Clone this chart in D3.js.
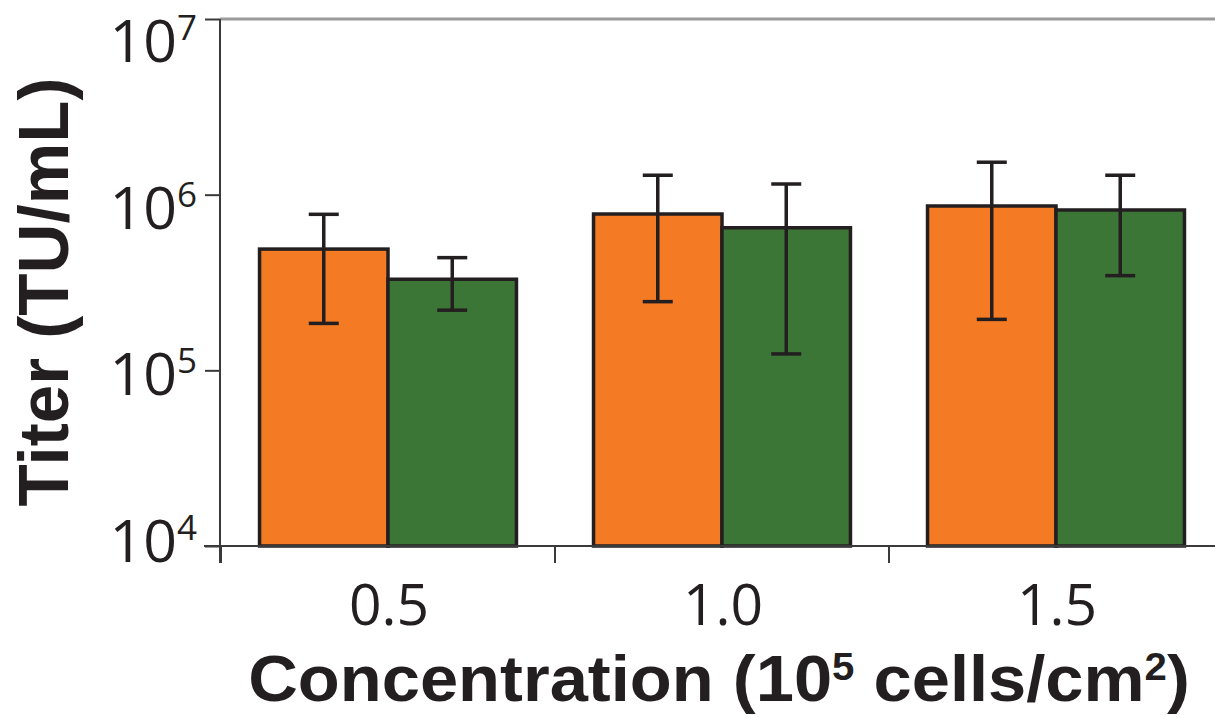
<!DOCTYPE html>
<html>
<head>
<meta charset="utf-8">
<script src="https://cdn.jsdelivr.net/npm/d3@7"></script>
<style>
  html, body { margin: 0; padding: 0; background: #fff; }
  svg { display: block; }
  text { font-family: "Open Sans", "Noto Sans", sans-serif; fill: #231f20; }
  text.title { font-family: "Liberation Sans", Arial, sans-serif; font-weight: 700; }
</style>
</head>
<body>
<svg id="chart" width="1215" height="715"></svg>
<script>
// ---- data ----
const categories = ["0.5", "1.0", "1.5"];
const series = ["orange", "green"];
const orangeValues = [4.9e5, 7.76e5, 8.62e5];
const orangeLow    = [1.85e5, 2.46e5, 1.95e5];
const orangeHigh   = [7.73e5, 1.29e6, 1.53e6];
const greenValues  = [3.30e5, 6.48e5, 8.18e5];
const greenLow     = [2.2e5, 1.24e5, 3.46e5];
const greenHigh    = [4.38e5, 1.15e6, 1.29e6];
const yTickExponents = [4, 5, 6, 7];

const colors = { orange: "#f47a24", green: "#3c7637" };
const ink = "#231f20";

const svg = d3.select("#chart");

const yDomain = [1e4, 1e7];
const y = d3.scaleLog().domain(yDomain).range([546, 19]);
const yLabel = d3.scaleLog().domain(yDomain).range([562, 62]);   // label baselines
const x0 = d3.scaleBand().domain(categories).range([221, 1223]).padding(0);
const x1 = d3.scaleBand().domain(series).range([0, x0.bandwidth()]).paddingInner(0).paddingOuter(0.3);

const rows = categories.map((c, i) => ({
  cat: c,
  bars: [
    { s: "orange", v: orangeValues[i], lo: orangeLow[i], hi: orangeHigh[i] },
    { s: "green",  v: greenValues[i],  lo: greenLow[i],  hi: greenHigh[i] }
  ]
}));

// top frame line
svg.append("line").attr("x1", 220).attr("x2", 1215).attr("y1", y(1e7)).attr("y2", y(1e7))
  .attr("stroke", "#9a9a9a").attr("stroke-width", 3);

// bars
const groups = svg.selectAll("g.grp").data(rows).join("g").attr("class", "grp")
  .attr("transform", d => `translate(${x0(d.cat)},0)`);

groups.selectAll("rect").data(d => d.bars).join("rect")
  .attr("x", d => x1(d.s))
  .attr("width", x1.bandwidth())
  .attr("y", d => y(d.v))
  .attr("height", d => y(1e4) - y(d.v))
  .attr("fill", d => colors[d.s])
  .attr("stroke", ink).attr("stroke-width", 3.5);

// error bars
const eb = groups.selectAll("g.eb").data(d => d.bars).join("g").attr("class", "eb")
  .attr("transform", d => `translate(${x1(d.s) + x1.bandwidth() / 2},0)`);
eb.append("line").attr("x1", 0).attr("x2", 0).attr("y1", d => y(d.hi)).attr("y2", d => y(d.lo))
  .attr("stroke", ink).attr("stroke-width", 3.5);
eb.append("line").attr("x1", -15).attr("x2", 15).attr("y1", d => y(d.hi)).attr("y2", d => y(d.hi))
  .attr("stroke", ink).attr("stroke-width", 3.5);
eb.append("line").attr("x1", -15).attr("x2", 15).attr("y1", d => y(d.lo)).attr("y2", d => y(d.lo))
  .attr("stroke", ink).attr("stroke-width", 3.5);

// y axis
const yAxis = d3.axisLeft(y).tickValues(yTickExponents.map(e => Math.pow(10, e)))
  .tickSize(15).tickSizeOuter(0).tickFormat("");
const gy = svg.append("g").attr("transform", "translate(220,0)").call(yAxis);
gy.select(".domain").remove();
gy.selectAll(".tick line").attr("stroke", "#3a3a3a").attr("stroke-width", 2);
svg.append("line").attr("x1", 220).attr("x2", 220).attr("y1", y(1e7)).attr("y2", y(1e4) + 17)
  .attr("stroke", "#3a3a3a").attr("stroke-width", 2);

// y tick labels
const yl = svg.selectAll("text.ylab").data(yTickExponents).join("text").attr("class", "ylab")
  .attr("x", 197).attr("y", e => yLabel(Math.pow(10, e)))
  .attr("text-anchor", "end").attr("font-size", 59);
yl.append("tspan").text("10");
yl.append("tspan").attr("font-size", 35).attr("dy", -22).text(e => e);

// x axis
svg.append("line").attr("x1", 204).attr("x2", 1215).attr("y1", y(1e4)).attr("y2", y(1e4))
  .attr("stroke", "#3a3a3a").attr("stroke-width", 2);
svg.selectAll("line.xt").data(categories).join("line").attr("class", "xt")
  .attr("x1", d => x0(d)).attr("x2", d => x0(d))
  .attr("y1", y(1e4)).attr("y2", y(1e4) + 17)
  .attr("stroke", "#3a3a3a").attr("stroke-width", 2);
svg.selectAll("text.xlab").data(categories).join("text").attr("class", "xlab")
  .attr("x", d => x0(d) + x0.bandwidth() / 2 + 1).attr("y", 625)
  .attr("text-anchor", "middle").attr("font-size", 57)
  .text(d => d);

// titles (condensed horizontally to the reference's width)
function fitWidth(sel, target, rotate) {
  const w = sel.node().getComputedTextLength();
  const sx = target / w;
  sel.attr("transform", `${rotate} scale(${sx},1)`);
}

const yt = svg.append("text").attr("class", "title")
  .attr("text-anchor", "middle").attr("font-size", 70)
  .text("Titer (TU/mL)");
fitWidth(yt, 429, "translate(68,292) rotate(-90)");

const xt = svg.append("text").attr("class", "title")
  .attr("text-anchor", "middle").attr("font-size", 65);
xt.append("tspan").text("Concentration (10");
xt.append("tspan").attr("font-size", 38).attr("dy", -21).text("5");
xt.append("tspan").attr("dy", 21).text(" cells/cm");
xt.append("tspan").attr("font-size", 38).attr("dy", -21).text("2");
xt.append("tspan").attr("dy", 21).text(")");
fitWidth(xt, 942, "translate(719,701)");
</script>
</body>
</html>
